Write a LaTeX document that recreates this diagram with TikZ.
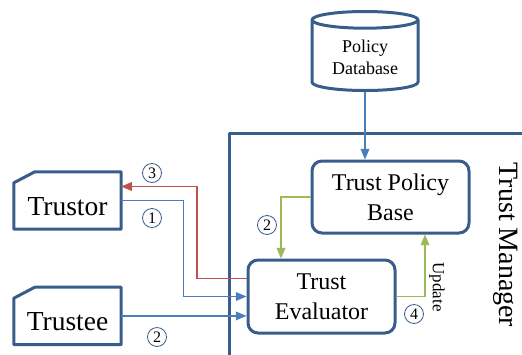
\documentclass[tikz,border=0pt]{standalone}
\usepackage{fontspec}
\setmainfont{Liberation Serif}
\usetikzlibrary{arrows,positioning,shapes.geometric}
\definecolor{boxblue}{RGB}{56,93,138}
\definecolor{lineblue}{RGB}{74,126,187}
\definecolor{linered}{RGB}{192,80,77}
\definecolor{linegreen}{RGB}{155,187,89}
\tikzset{
    %Define standard arrow tip
    >=triangle 45,
    %Define style for the two actors
    actor/.style={
           rectangle,
           inner sep=0pt,
           minimum width=107pt,
           minimum height=57pt,
           text height=30pt,
           text depth=0pt,
           font=\fontsize{27.5}{33}\selectfont},
    boxline/.style={
           draw=boxblue,
           line width=3pt,
           line join=round},
    %Define style for the manager blocks
    block/.style={
           rectangle,
           rounded corners=10pt,
           boxline,
           align=center,
           font=\fontsize{24}{30}\selectfont},
    store/.style={
           cylinder,
           shape border rotate=90,
           aspect=0.23,
           boxline,
           minimum width=106pt,
           minimum height=79pt,
           align=center,
           font=\fontsize{18}{22}\selectfont},
    % Define arrow styles
    flow/.style={
           ->,
           line width=1.5pt},
    num/.style={
           circle,
           draw=boxblue,
           line width=0.8pt,
           inner sep=0pt,
           minimum size=19pt,
           font=\fontsize{16}{16}\selectfont}
}
% outline with the cut corner
\newcommand\actorframe[1]{%
  \draw[boxline] ([yshift=-11pt]#1.north west) -- ([xshift=21pt]#1.north west)
    -- (#1.north east) -- (#1.south east) -- (#1.south west) -- cycle;}
\begin{document}
\begin{tikzpicture}[x=1pt, y=-1pt]
    \useasboundingbox (0,0) rectangle (522,354);
    % trust manager frame
    \draw[boxline] (229,370) -- (229,133) -- (540,133);
    \node[rotate=-90, font=\fontsize{28}{28}\selectfont] (tm) at (506,245) {Trust Manager};

    \node[actor] (trustor) at (67.5,200.5) {Trustor};
    \node[actor, below=58pt of trustor] (trustee) {Trustee};
    \actorframe{trustor}
    \actorframe{trustee}

    \node[store, anchor=south] (pdb) at (365,92) {Policy\\Database};
    \node[block, minimum width=157pt, minimum height=72pt] (tpb) at (390.5,197) {Trust Policy\\Base};
    \node[block, minimum width=147pt, minimum height=73pt] (eval) at (321.5,296.5) {Trust\\Evaluator};

    % connectors
    \draw[flow, lineblue] (pdb.south) -- (pdb.south |- tpb.north);
    \draw[flow, linered] ([yshift=18pt]eval.west) -| ([xshift=76pt,yshift=14pt]trustor.east)
       -- ([yshift=14pt]trustor.east);
    \draw[flow, lineblue] (trustor.east) -| ([xshift=-63pt]eval.west) -- (eval.west);
    \draw[flow, lineblue] (trustee.east) -- (trustee.east -| eval.west);
    \draw[flow, linegreen] (tpb.west) -| ([xshift=-40.5pt]eval.north);
    \draw[flow, linegreen] (eval.east) -| ([xshift=34.5pt]tpb.south);

    % step numbers
    \node[num] (n3) at (152,173) {3};
    \node[num] (n1) at (152,218) {1};
    \node[num] (n2a) at (157,337) {2};
    \node[num] (n2b) at (267,225) {2};
    \node[num] (n4) at (414,314) {4};
    \node[rotate=-90, font=\fontsize{17}{17}\selectfont] (upd) at (437,287) {Update};
\end{tikzpicture}
\end{document}
